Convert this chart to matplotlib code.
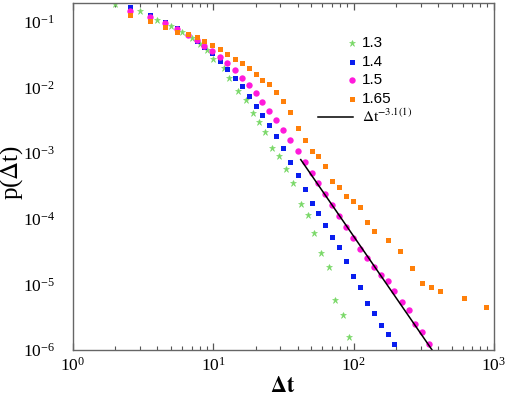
import numpy as np
import matplotlib
matplotlib.use('Agg')
import matplotlib.pyplot as plt
from matplotlib.ticker import LogLocator, LogFormatterMathtext, NullFormatter

plt.rcParams['mathtext.fontset'] = 'stix'
plt.rcParams['font.family'] = 'Liberation Serif'

# log-binned waiting time distributions
x_13 = [2, 3, 4, 5, 6, 7, 8, 9, 10, 12, 13, 15, 17.1, 19.2, 21.2, 23.2, 26.2, 29.2,
        33.2, 37.2, 42.2, 47.3, 52.5, 58.9, 66.5, 74.1, 83.6, 93.2]
p_13 = [0.188, 0.146, 0.107, 0.0859, 0.0705, 0.0565, 0.0467, 0.0374, 0.027, 0.0199,
        0.0142, 0.00887, 0.00647, 0.00414, 0.00299, 0.00214, 0.00122, 0.000916,
        0.000574, 0.000348, 0.000168, 0.000114, 6.18e-5, 3.01e-5, 1.84e-5, 5.78e-6,
        3.45e-6, 1.56e-6]

x_bins = [2.54, 3.52, 4.53, 5.54, 6.57, 7.61, 8.63, 9.84, 11.1, 12.6, 14.3, 16.1, 18.0,
          20.1, 22.3, 24.8, 28.0, 31.5, 35.4, 40.0, 44.8, 50.3, 56.0, 62.9, 70.5, 79.1,
          88.7, 99.5, 111, 125, 139, 156, 175, 195, 220, 247, 275, 309, 346]

p_14 = [0.1675, 0.129, 0.100, 0.0811, 0.0656, 0.0519, 0.0411, 0.0333, 0.0254, 0.0192,
        0.0142, 0.0104, 0.00745, 0.0053, 0.00386, 0.00272, 0.00182, 0.00119, 0.000735,
        0.00046, 0.000288, 0.000176, 0.000121, 8.13e-5, 5.28e-5, 3.68e-5, 2.30e-5,
        1.36e-5, 9.23e-6, 5.15e-6, 3.66e-6, 2.40e-6, 1.75e-6, 1.25e-6]

p_15 = [0.149, 0.119, 0.0955, 0.0781, 0.0644, 0.0532, 0.0438, 0.0365, 0.0296, 0.0239,
        0.0184, 0.0142, 0.0108, 0.00818, 0.00602, 0.00445, 0.00323, 0.00226, 0.00157,
        0.00108, 0.00074, 0.000499, 0.000348, 0.000239, 0.000165, 0.000109, 7.5e-5,
        5.05e-5, 3.43e-5, 2.54e-5, 1.83e-5, 1.38e-5, 1.135e-5, 7.87e-6, 5.48e-6,
        4.1e-6, 2.47e-6, 1.86e-6, 1.25e-6]

x_165 = x_bins[:31] + [174.5, 215, 259, 308, 357, 413, 614, 876]
p_165 = [0.128, 0.1025, 0.0839, 0.0711, 0.0649, 0.0585, 0.0519, 0.0451, 0.039, 0.0325,
         0.0276, 0.0234, 0.0199, 0.0164, 0.0132, 0.0112, 0.00847, 0.00621, 0.0042,
         0.0024, 0.0016, 0.00109, 0.000912, 0.000643, 0.000374, 0.00031, 0.000224,
         0.00019, 0.00015, 8.79e-5, 6.56e-5, 4.79e-5, 3.21e-5, 1.80e-5, 1.057e-5,
         9.12e-6, 7.85e-6, 6.14e-6, 4.55e-6]

fit_exp = -3.1
fit_amp = 86.0
fit_range = [42.0, 362.0]

labels = ['1.3', '1.4', '1.5', '1.65']
colors = ['#78D866', '#0A1EEE', '#FF1ADB', '#FF800A']

fig = plt.figure(figsize=(5.05, 3.98), dpi=100)
ax = fig.add_axes([0.1446, 0.1206, 0.8334, 0.8719])

ax.plot(x_13, p_13, ls='none', marker='*', ms=5, color=colors[0], mew=0.4)
ax.plot(x_bins[:len(p_14)], p_14, ls='none', marker='s', ms=3.6, color=colors[1], mew=0)
ax.plot(x_bins, p_15, ls='none', marker='o', ms=4.6, color=colors[2], mew=0)
ax.plot(x_165, p_165, ls='none', marker='s', ms=3.6, color=colors[3], mew=0)

xf = np.logspace(np.log10(fit_range[0]), np.log10(fit_range[1]), 50)
ax.plot(xf, fit_amp * xf ** fit_exp, color='black', lw=1.1)

ax.set_xscale('log')
ax.set_yscale('log')
ax.set_xlim(1, 1000)
ax.set_ylim(1e-6, 0.195)

for s in ax.spines.values():
    s.set_color('#666666')
    s.set_linewidth(1.0)

ax.xaxis.set_major_locator(LogLocator(base=10, numticks=10))
ax.xaxis.set_minor_locator(LogLocator(base=10, subs=np.arange(2, 10), numticks=10))
ax.xaxis.set_major_formatter(LogFormatterMathtext())
ax.xaxis.set_minor_formatter(NullFormatter())
ax.yaxis.set_major_locator(LogLocator(base=10, numticks=10))
ax.yaxis.set_minor_locator(LogLocator(base=10, subs=np.arange(2, 10), numticks=10))
ax.yaxis.set_major_formatter(LogFormatterMathtext())
ax.yaxis.set_minor_formatter(NullFormatter())

ax.tick_params(axis='x', which='both', direction='in', top=True, color='#555555',
               labelsize=12.5, pad=5)
ax.tick_params(axis='x', which='major', length=5, width=0.9)
ax.tick_params(axis='x', which='minor', length=3, width=0.8)
ax.tick_params(axis='y', which='both', length=0, labelsize=12.5, pad=13)

ax.set_xlabel(r'$\mathbf{\Delta t}$', fontsize=16)
ax.xaxis.set_label_coords(0.499, -0.107)
ax.xaxis.label.set_va('center')
ax.set_ylabel(r'p($\Delta$t)', fontsize=18)
ax.yaxis.set_label_coords(-0.145, 0.513)
ax.yaxis.label.set_va('center')

# legend drawn by hand: markers sit at the right end of the fit line
leg_y = [0.8838, 0.8308, 0.7781, 0.7242]
markers = ['*', 's', 'o', 's']
msizes = [5, 3.6, 4.6, 3.6]
for yy, lab, c, m, msz in zip(leg_y, labels, colors, markers, msizes):
    ax.plot([0.664], [yy], transform=ax.transAxes, ls='none', marker=m, ms=msz,
            color=c, mew=0.4 if m == '*' else 0)
    ax.text(0.686, yy, lab, transform=ax.transAxes, va='center', ha='left',
            fontsize=11, family='Liberation Sans')
ax.plot([0.581, 0.666], [0.6723, 0.6723], transform=ax.transAxes, color='black', lw=1.1)
ax.text(0.686, 0.6723, r'$\Delta$t$^{-3.1(1)}$', transform=ax.transAxes,
        va='center', ha='left', fontsize=11)

fig.savefig('out.png', dpi=100)
